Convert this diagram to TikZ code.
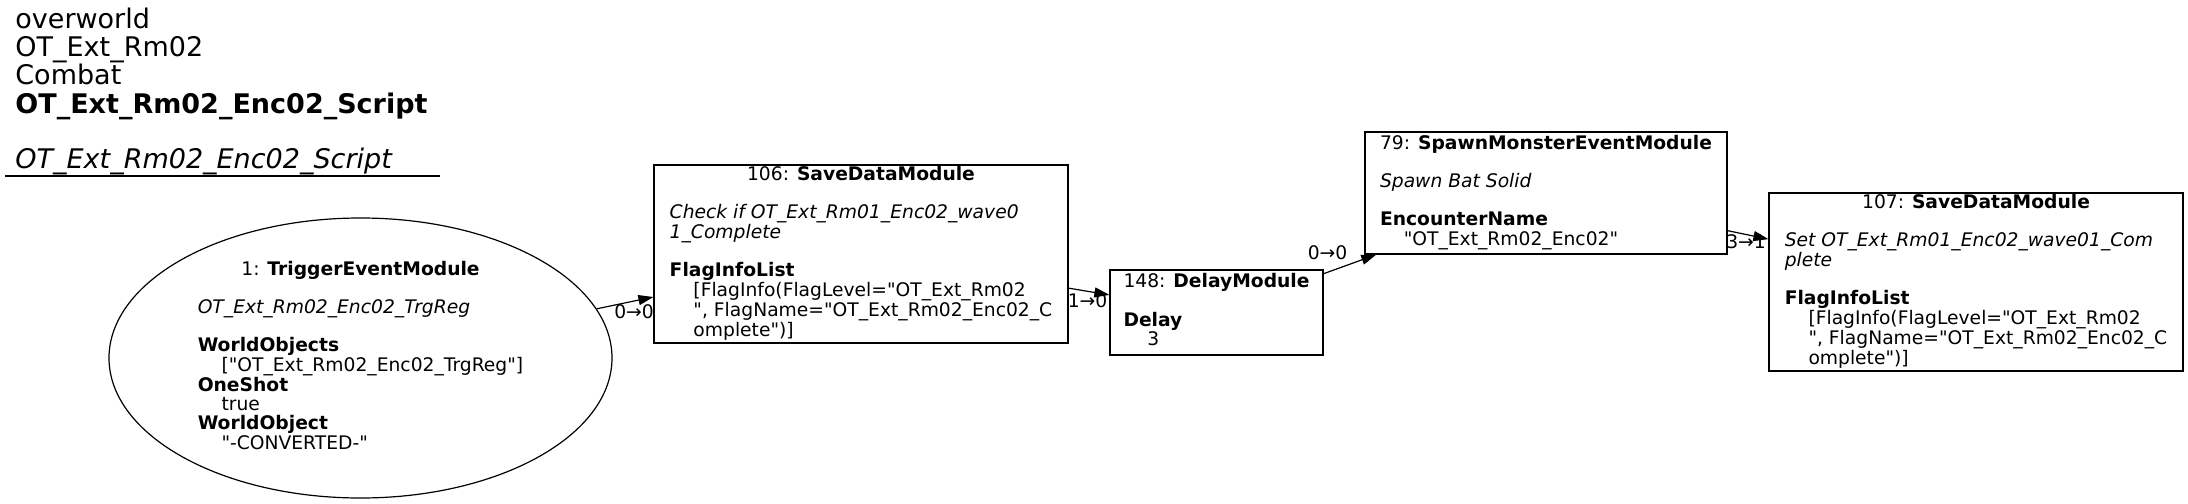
\documentclass[tikz,border=0pt]{standalone}
\usepackage{fontspec}
\newfontfamily\dejavu{DejaVu Sans}[ItalicFont={DejaVu Sans Oblique},BoldFont={DejaVu Sans Bold},BoldItalicFont={DejaVu Sans Bold Oblique}]
\usetikzlibrary{shapes.geometric,arrows.meta}
\newcommand{\ind}{\hspace*{1.27em}}
\newcommand{\ttl}[1]{\multicolumn{1}{@{}c@{}}{#1}}

\begin{document}
\begin{tikzpicture}[x=0.5pt,y=-0.5pt,
    modbox/.style={draw,line width=0.6pt,inner sep=0pt,font=\dejavu\fontsize{9.35}{9.3}\selectfont},
    lbl/.style={anchor=base,inner sep=0pt,font=\dejavu\fontsize{9.35}{9.3}\selectfont},
    link/.style={line width=0.6pt,-{Triangle[length=7.5pt,width=5pt]}}]
    \useasboundingbox (0,0) rectangle (2188,503);
    % graph label
    \node[anchor=base west,inner sep=0pt,font=\dejavu\fontsize{13.5}{13.35}\selectfont] (title) at (15,28.3)
        {\begin{tabular}[t]{@{}l@{}}overworld\\OT\_Ext\_Rm02\\Combat\\\textbf{OT\_Ext\_Rm02\_Enc02\_Script}\\ \\\textit{OT\_Ext\_Rm02\_Enc02\_Script}\end{tabular}};
    \draw[line width=0.6pt] (5,176) -- (440,176);
    % modules
    \node[modbox,ellipse,minimum width=251.5pt,minimum height=140pt] (trig) at (360.5,358)
        {\begin{tabular}{@{}l@{}}\ttl{1: \textbf{TriggerEventModule}}\\ \\\textit{OT\_Ext\_Rm02\_Enc02\_TrgReg}\\ \\\textbf{WorldObjects}\\\ind["OT\_Ext\_Rm02\_Enc02\_TrgReg"]\\\textbf{OneShot}\\\ind true\\\textbf{WorldObject}\\\ind"-CONVERTED-"\end{tabular}};
    \node[modbox,minimum width=207pt,minimum height=89pt] (save106) at (861,254)
        {\begin{tabular}{@{}l@{}}\ttl{106: \textbf{SaveDataModule}}\\ \\\textit{Check if OT\_Ext\_Rm01\_Enc02\_wave0}\\\textit{1\_Complete}\\ \\\textbf{FlagInfoList}\\\ind[FlagInfo(FlagLevel="OT\_Ext\_Rm02\\\ind", FlagName="OT\_Ext\_Rm02\_Enc02\_C\\\ind omplete")]\end{tabular}};
    \node[modbox,minimum width=106.5pt,minimum height=42.5pt] (delay148) at (1216.5,312.5)
        {\begin{tabular}{@{}l@{}}\ttl{148: \textbf{DelayModule}}\\ \\\textbf{Delay}\\\ind 3\end{tabular}};
    \node[modbox,minimum width=181pt,minimum height=61pt] (spawn79) at (1546,193)
        {\begin{tabular}{@{}l@{}}\ttl{79: \textbf{SpawnMonsterEventModule}}\\ \\\textit{Spawn Bat Solid}\\ \\\textbf{EncounterName}\\\ind"OT\_Ext\_Rm02\_Enc02"\end{tabular}};
    \node[modbox,minimum width=207pt,minimum height=89pt] (save107) at (1976,282)
        {\begin{tabular}{@{}l@{}}\ttl{107: \textbf{SaveDataModule}}\\ \\\textit{Set OT\_Ext\_Rm01\_Enc02\_wave01\_Com}\\\textit{plete}\\ \\\textbf{FlagInfoList}\\\ind[FlagInfo(FlagLevel="OT\_Ext\_Rm02\\\ind", FlagName="OT\_Ext\_Rm02\_Enc02\_C\\\ind omplete")]\end{tabular}};
    % links
    \draw[link] (trig) -- (save106);
    \draw[link] (save106) -- (delay148);
    \draw[link] (delay148) -- (spawn79);
    \draw[link] (spawn79) -- (save107);
    \node[lbl] (l1) at (634,318) {0→0};
    \node[lbl] (l2) at (1087.5,307) {1→0};
    \node[lbl] (l3) at (1327.5,259) {0→0};
    \node[lbl] (l4) at (1746,248) {3→1};
\end{tikzpicture}
\end{document}
